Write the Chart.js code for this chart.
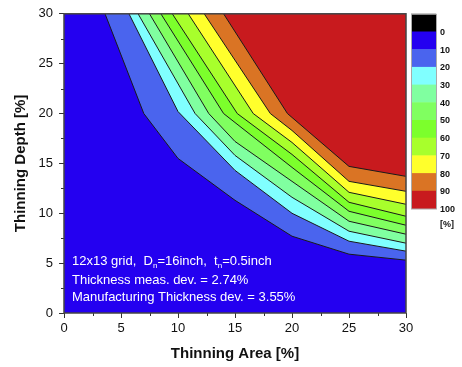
<!DOCTYPE html>
<html>
<head>
<meta charset="utf-8">
<script src="https://cdn.jsdelivr.net/npm/chart.js@4.4.0/dist/chart.umd.min.js"></script>
<style>
  html, body { margin: 0; padding: 0; background: #fff; }
  #wrap { width: 462px; height: 367px; }
</style>
</head>
<body>
<div id="wrap"><canvas id="chart" width="462" height="367"></canvas></div>
<script>
// contour levels [%] and their boundary lines as [thinning area, thinning depth]
const levels = [10, 20, 30, 40, 50, 60, 70, 80, 90];
const contour10 = [[3.6, 30], [7, 20], [10, 15.5], [15, 11.3], [20, 7.7], [25, 5.9], [30, 5.3]];
const contour20 = [[5.7, 30], [10, 20.2], [15, 14.3], [20, 10.0], [25, 7.2], [30, 6.2]];
const contour30 = [[6.5, 30], [11.5, 20], [15, 15.8], [20, 11.6], [25, 8.2], [30, 7.0]];
const contour40 = [[7.5, 30], [12.7, 20], [15, 17.2], [20, 13.2], [25, 9.2], [30, 7.9]];
const contour50 = [[8.5, 30], [14.0, 20], [20, 14.6], [25, 10.2], [30, 8.8]];
const contour60 = [[9.5, 30], [15.2, 20], [20, 15.9], [25, 11.1], [30, 9.7]];
const contour70 = [[10.9, 30], [16.6, 20], [20, 17.1], [25, 12.1], [30, 10.9]];
const contour80 = [[12.3, 30], [18.1, 20], [20, 18.3], [25, 13.2], [30, 12.2]];
const contour90 = [[14.0, 30], [19.6, 20], [25, 14.7], [30, 13.7]];
const contours = [contour10, contour20, contour30, contour40, contour50, contour60, contour70, contour80, contour90];

const xTicks = [0, 5, 10, 15, 20, 25, 30];
const yTicks = [0, 5, 10, 15, 20, 25, 30];
const colorbarLabels = ['0', '10', '20', '30', '40', '50', '60', '70', '80', '90', '100'];

// band colours, lowest band first; black is the top box of the colour bar
const bandColors = ['#2400F0', '#4A64EE', '#80FFFF', '#80FFA0', '#80FF60', '#7CFF2C', '#A8FF2C', '#FFFF2C', '#DA7424', '#C81A1E'];
const overColor = '#000000';

const FONT = '"Liberation Sans", Arial, sans-serif';

const backdrop = {
    id: 'backdrop',
    beforeDatasetsDraw(chart) {
        const { ctx, chartArea: a } = chart;
        ctx.save();
        ctx.fillStyle = bandColors[0];
        ctx.fillRect(a.left, a.top, a.right - a.left, a.bottom - a.top);
        ctx.restore();
    }
};

const decorations = {
    id: 'decorations',
    afterDatasetsDraw(chart) {
        const { ctx, chartArea: a, scales } = chart;
        ctx.save();

        // note text inside the plot
        ctx.fillStyle = '#ffffff';
        ctx.textBaseline = 'middle';
        ctx.textAlign = 'left';
        const main = '13px ' + FONT, sub = '8px ' + FONT;
        let x = a.left + 8, y = 261;
        const parts = [['12x13 grid,  D', main], ['n', sub], ['=16inch,  t', main], ['n', sub], ['=0.5inch', main]];
        parts.forEach(([t, f]) => {
            ctx.font = f;
            ctx.fillText(t, x, f === sub ? y + 5 : y);
            x += ctx.measureText(t).width;
        });
        ctx.font = main;
        ctx.fillText('Thickness meas. dev. = 2.74%', a.left + 8, 280);
        ctx.fillText('Manufacturing Thickness dev. = 3.55%', a.left + 8, 297);

        // minor ticks
        ctx.strokeStyle = '#333';
        ctx.lineWidth = 1;
        for (let v = 2.5; v < 30; v += 5) {
            const px = Math.round(scales.x.getPixelForValue(v)) + 0.5;
            const py = Math.round(scales.y.getPixelForValue(v)) + 0.5;
            ctx.beginPath();
            ctx.moveTo(px, a.bottom); ctx.lineTo(px, a.bottom + 3);
            ctx.moveTo(a.left, py); ctx.lineTo(a.left - 3, py);
            ctx.stroke();
        }

        // frame
        ctx.strokeStyle = '#444';
        ctx.lineWidth = 1.5;
        ctx.strokeRect(a.left, a.top, a.right - a.left, a.bottom - a.top);

        // colour bar
        const bx = 411, bw = 25, bh = 17.7, by = a.top;
        const boxes = [overColor].concat(bandColors);
        boxes.forEach((c, i) => {
            ctx.fillStyle = c;
            ctx.fillRect(bx, by + i * bh, bw, bh + 0.5);
        });
        ctx.strokeStyle = '#aaa';
        ctx.lineWidth = 1;
        ctx.strokeRect(bx + 0.5, by + 0.5, bw, boxes.length * bh);
        ctx.fillStyle = '#111';
        ctx.font = 'bold 9px ' + FONT;
        ctx.textBaseline = 'middle';
        colorbarLabels.forEach((t, i) => {
            ctx.fillText(t, 440, by + (i + 1) * bh + 1);
        });
        ctx.fillText('[%]', 440, by + 12 * bh - 2);
        ctx.restore();
    }
};

const datasets = levels.map((lv, i) => ({
    label: lv + '%',
    data: contours[i].map(([x, y]) => ({ x, y })),
    fill: 'end',
    backgroundColor: bandColors[i + 1],
    borderColor: '#1a1a1a',
    borderWidth: 1,
    pointRadius: 0,
    tension: 0,
    order: 100 - lv
}));

new Chart(document.getElementById('chart'), {
    type: 'line',
    data: { datasets },
    options: {
        responsive: false,
        animation: false,
        devicePixelRatio: 1,
        layout: { padding: { top: 11, right: 56, left: 0, bottom: 0 } },
        plugins: { legend: { display: false }, tooltip: { enabled: false } },
        scales: {
            x: {
                type: 'linear', min: 0, max: 30,
                afterBuildTicks: s => { s.ticks = xTicks.map(v => ({ value: v })); },
                afterFit: s => { s.height = 54; },
                ticks: { color: '#111', padding: 3, font: { family: FONT, size: 13 } },
                grid: { drawOnChartArea: false, drawTicks: true, tickLength: 5, tickColor: '#333' },
                border: { display: false },
                title: { display: true, text: 'Thinning Area [%]', color: '#111', padding: { top: 0, bottom: 4 }, font: { family: FONT, size: 15, weight: 'bold' } }
            },
            y: {
                type: 'linear', min: 0, max: 30,
                afterBuildTicks: s => { s.ticks = yTicks.map(v => ({ value: v })); },
                afterFit: s => { s.width = 64; },
                ticks: { color: '#111', padding: 6, font: { family: FONT, size: 13 } },
                grid: { drawOnChartArea: false, drawTicks: true, tickLength: 5, tickColor: '#333' },
                border: { display: false },
                title: { display: true, text: 'Thinning Depth [%]', color: '#111', padding: { top: 12, bottom: 0 }, font: { family: FONT, size: 15, weight: 'bold' } }
            }
        }
    },
    plugins: [backdrop, decorations]
});
</script>
</body>
</html>
